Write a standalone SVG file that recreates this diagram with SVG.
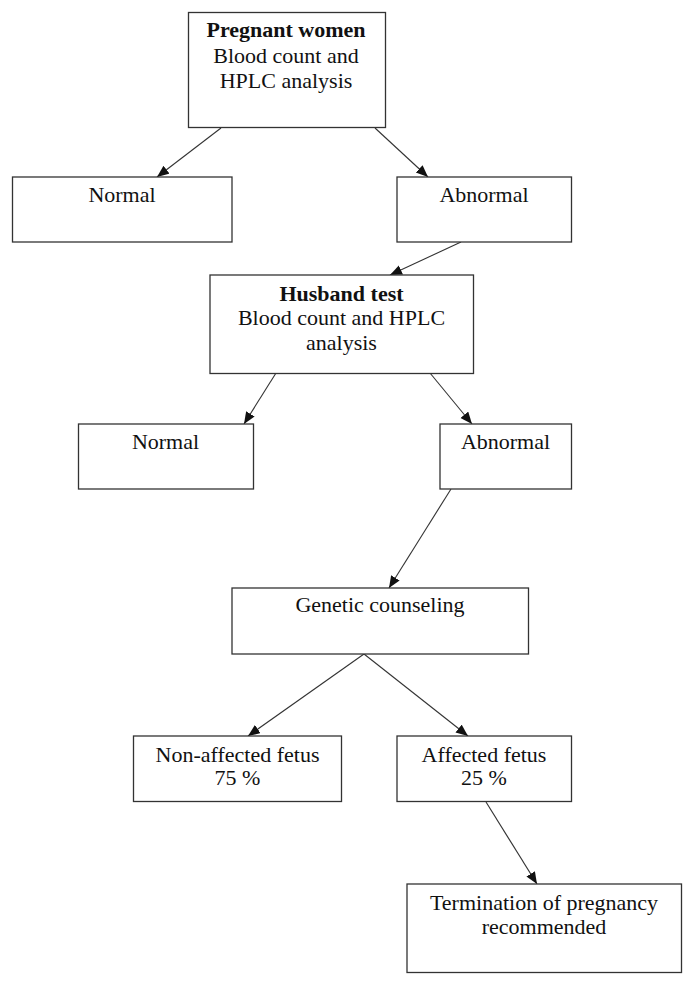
<svg xmlns="http://www.w3.org/2000/svg" width="694" height="986" viewBox="0 0 694 986">
<style>
.box{fill:#fff;stroke:#333;stroke-width:1.3}
.t{font-family:"Liberation Serif","Times New Roman",serif;font-size:22px;fill:#111;text-anchor:middle}
.b{font-weight:bold}
.c{stroke:#333;stroke-width:1.1;fill:none;marker-end:url(#ah)}
</style>
<defs>
<marker id="ah" markerUnits="userSpaceOnUse" markerWidth="13" markerHeight="11" refX="12" refY="5" orient="auto">
<path d="M0,0 L12,5 L0,10 z" fill="#111"/>
</marker>
</defs>
<rect width="694" height="986" fill="#fff"/>
<g id="connectors">
<line class="c" x1="221" y1="128" x2="157" y2="177"/>
<line class="c" x1="375" y1="128" x2="428" y2="177"/>
<line class="c" x1="461" y1="242" x2="390" y2="275"/>
<line class="c" x1="276" y1="373" x2="244" y2="424"/>
<line class="c" x1="430" y1="373" x2="472" y2="424"/>
<line class="c" x1="451" y1="489" x2="389" y2="588"/>
<line class="c" x1="364" y1="654" x2="248" y2="736"/>
<line class="c" x1="364" y1="654" x2="468" y2="736"/>
<line class="c" x1="486" y1="802" x2="537" y2="884"/>
</g>
<g id="pregnant">
<rect class="box" x="188.5" y="12.5" width="197" height="115"/>
<text class="t b" x="286" y="37">Pregnant women</text>
<text class="t" x="286" y="63">Blood count and</text>
<text class="t" x="286" y="88">HPLC analysis</text>
</g>
<g id="normal1">
<rect class="box" x="12.5" y="177" width="219.5" height="65"/>
<text class="t" x="122" y="202">Normal</text>
</g>
<g id="abnormal1">
<rect class="box" x="397" y="177" width="174.5" height="65"/>
<text class="t" x="484" y="202">Abnormal</text>
</g>
<g id="husband">
<rect class="box" x="210" y="275" width="263.5" height="98.5"/>
<text class="t b" x="341.5" y="300.5">Husband test</text>
<text class="t" x="341.5" y="325">Blood count and HPLC</text>
<text class="t" x="341.5" y="349.5">analysis</text>
</g>
<g id="normal2">
<rect class="box" x="78.5" y="424" width="175" height="65"/>
<text class="t" x="165.5" y="448.5">Normal</text>
</g>
<g id="abnormal2">
<rect class="box" x="440" y="424" width="131.5" height="65"/>
<text class="t" x="505.5" y="448.5">Abnormal</text>
</g>
<g id="genetic">
<rect class="box" x="232" y="588" width="296.5" height="66"/>
<text class="t" x="380" y="612">Genetic counseling</text>
</g>
<g id="nonaffected">
<rect class="box" x="133.5" y="736" width="208" height="65.5"/>
<text class="t" x="237.5" y="761.5">Non-affected fetus</text>
<text class="t" x="237.5" y="785">75 %</text>
</g>
<g id="affected">
<rect class="box" x="397" y="736" width="174.5" height="65.5"/>
<text class="t" x="484" y="761.5">Affected fetus</text>
<text class="t" x="484" y="785">25 %</text>
</g>
<g id="termination">
<rect class="box" x="407" y="884" width="274.5" height="88.5"/>
<text class="t" x="544" y="910">Termination of pregnancy</text>
<text class="t" x="544" y="934">recommended</text>
</g>
</svg>
